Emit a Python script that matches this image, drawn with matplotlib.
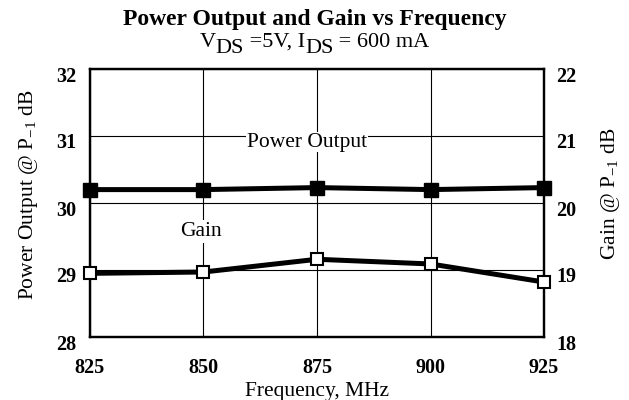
import numpy as np
import matplotlib.pyplot as plt
from matplotlib.transforms import ScaledTranslation

plt.rcParams['font.family'] = ['Liberation Serif', 'DejaVu Serif']
plt.rcParams['mathtext.fontset'] = 'custom'
plt.rcParams['mathtext.rm'] = 'Liberation Serif'
plt.rcParams['mathtext.it'] = 'Liberation Serif:italic'
plt.rcParams['mathtext.bf'] = 'Liberation Serif:bold'

freq = [825, 850, 875, 900, 925]
power_out = [30.2, 30.2, 30.23, 30.2, 30.23]
gain = [18.95, 18.97, 19.16, 19.09, 18.82]

fig = plt.figure(figsize=(6.29, 4.0), dpi=100)
ax = fig.add_axes([0.143, 0.1575, 0.722, 0.67])
ax2 = ax.twinx()

ax.set_xlim(825, 925)
ax.set_ylim(28, 32)
ax2.set_ylim(18, 22)

ax.set_xticks(freq)
ax.set_yticks([28, 29, 30, 31, 32])
ax2.set_yticks([18, 19, 20, 21, 22])
ax.grid(True, color='black', linewidth=0.8)
ax.set_axisbelow(True)

ax.tick_params(axis='x', length=0, labelsize=14.5, pad=15)
ax.tick_params(axis='y', length=0, labelsize=14.5, pad=10)
ax2.tick_params(axis='y', length=0, labelsize=14.5, pad=9)
shift = ScaledTranslation(0, -5 / 100, fig.dpi_scale_trans)
for a in (ax, ax2):
    for lab in a.get_xticklabels() + a.get_yticklabels():
        lab.set_fontweight('bold')
    for lab in a.get_yticklabels():
        lab.set_transform(lab.get_transform() + shift)
    for s in a.spines.values():
        s.set_linewidth(1.6)

ax.plot(freq, power_out, color='black', linewidth=3.6, marker='s',
        markersize=10, markerfacecolor='black', clip_on=False, zorder=5)
ax2.plot(freq, gain, color='black', linewidth=3.6, marker='s',
         markersize=8.5, markerfacecolor='white', markeredgecolor='black',
         markeredgewidth=1.5, clip_on=False, zorder=5)

ax.text(872.8, 30.91, 'Power Output', fontsize=15.5, ha='center', va='center',
        bbox=dict(facecolor='white', edgecolor='none', pad=0.5), zorder=3)
ax.text(849.4, 29.57, 'Gain', fontsize=15.5, ha='center', va='center',
        bbox=dict(facecolor='white', edgecolor='none', pad=1.5), zorder=3)

ax.set_xlabel('Frequency, MHz', fontsize=15.5, labelpad=3)
ax.set_ylabel(r'Power Output @ P$_{\mathrm{-1}}$ dB', fontsize=15.5)
ax2.set_ylabel(r'Gain @ P$_{\mathrm{-1}}$ dB', fontsize=15.5)
ax.yaxis.set_label_coords(-0.11, 0.53)
ax2.yaxis.set_label_coords(1.12, 0.534)

fig.text(0.5, 0.95, 'Power Output and Gain vs Frequency', fontsize=17,
         fontweight='bold', ha='center', va='center')

# second title line: subscripts nearly full size, dropped a few pixels
pieces = [('V', 0), ('DS', -6), (' =5V, I', 0), ('DS', -6), (' = 600 mA', 0)]
renderer = fig.canvas.get_renderer()
texts = []
for s, dy in pieces:
    t = fig.text(0, 0, s, fontsize=16, va='baseline', ha='left')
    texts.append((t, dy))
widths = [t.get_window_extent(renderer).width for t, _ in texts]
x0 = 0.5 * fig.bbox.width - sum(widths) / 2
base = 400 - 47
for (t, dy), w in zip(texts, widths):
    t.set_transform(None)
    t.set_position((x0, base + dy))
    x0 += w

fig.savefig('out.png', dpi=100)
